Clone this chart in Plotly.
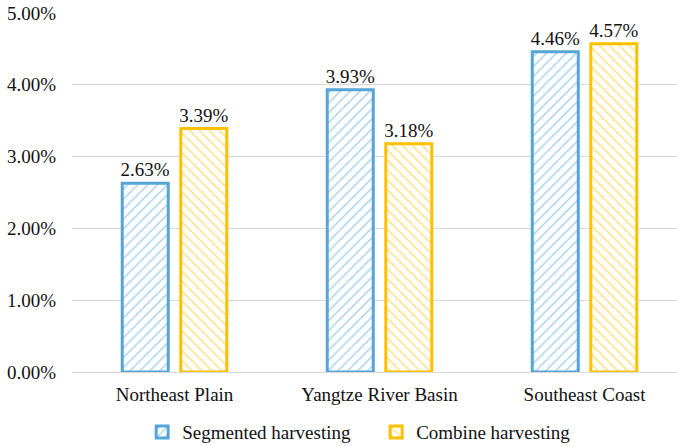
import plotly.graph_objects as go

regions = ["Northeast Plain", "Yangtze River Basin", "Southeast Coast"]
segmented = [2.63, 3.93, 4.46]
combine = [3.39, 3.18, 4.57]

blue = "#55A5D8"
gold = "#FFC000"
font_family = "Liberation Serif"
fsize = 19

fig = go.Figure()
for name, vals, col, shape in [
    ("Segmented harvesting", segmented, blue, "/"),
    ("Combine harvesting", combine, gold, "\\"),
]:
    fig.add_trace(go.Bar(
        name=name,
        x=regions,
        y=vals,
        text=[f"{v:.2f}%" for v in vals],
        textposition="outside",
        constraintext="none",
        textfont=dict(family=font_family, size=fsize, color="#111"),
        cliponaxis=False,
        marker=dict(
            color="white",
            line=dict(color=col, width=3),
            pattern=dict(shape=shape, fgcolor=col, bgcolor="white",
                         size=7, solidity=0.22, fillmode="overlay"),
        ),
    ))

fig.update_layout(
    width=677, height=446,
    margin=dict(l=72, r=0, t=13, b=74),
    paper_bgcolor="white", plot_bgcolor="white",
    barmode="group", bargap=0.429, bargroupgap=0.214,
    font=dict(family=font_family, size=fsize, color="#111"),
    showlegend=True,
    legend=dict(orientation="h", xref="container", x=0.21, xanchor="left",
                yref="container", y=0.031, yanchor="middle",
                font=dict(family=font_family, size=fsize),
                traceorder="normal", itemwidth=30, entrywidth=189),
    yaxis=dict(range=[0, 5], dtick=1, ticksuffix="%", tickformat=".2f",
               showgrid=True, gridcolor="#D9D9D9", gridwidth=1.3,
               zeroline=True, zerolinecolor="#D9D9D9", zerolinewidth=1.3,
               showline=False, ticks="", ticklabelstandoff=15,
               tickfont=dict(family=font_family, size=fsize)),
    xaxis=dict(range=[-0.5, 2.451], showline=False, ticks="",
               ticklabelstandoff=9,
               tickfont=dict(family=font_family, size=fsize)),
)

fig.write_html("out.html")
